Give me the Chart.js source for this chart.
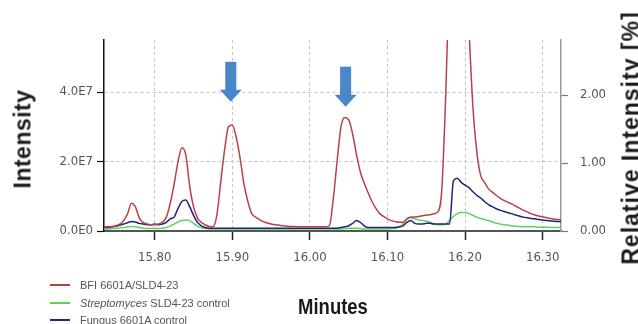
<!DOCTYPE html>
<html>
<head>
<meta charset="utf-8">
<script src="https://cdn.jsdelivr.net/npm/chart.js@4.4.1/dist/chart.umd.min.js"></script>
<style>
  html, body { margin: 0; padding: 0; background: #ffffff; }
  #wrap { position: relative; width: 638px; height: 324px; overflow: hidden; background: #fff; }
  #c { position: absolute; left: 0; top: 0; }
  .title { position: absolute; white-space: nowrap; font-weight: bold; color: #1a1a1a; }
  .rot { transform: translate(-50%, -50%) rotate(-90deg); }
  .legrow { position: absolute; left: 50px; height: 14px; font-family: "Liberation Sans", Arial, sans-serif; font-size: 11px; color: #555; white-space: nowrap; }
  .legrow span.sw { position: absolute; left: 0; top: 6px; width: 20px; height: 2px; }
  .legrow span.tx { position: absolute; left: 30px; top: 0; line-height: 14px; }
</style>
</head>
<body>
<div id="wrap">
  <canvas id="c" width="638" height="324"></canvas>
  <div class="title rot" id="yTitle" style="left:23px; top:139px; font-family:'Liberation Sans', Arial, sans-serif; font-size:23px; letter-spacing:0.5px;">Intensity</div>
  <div class="title rot" id="y2Title" style="left:631px; top:138px; font-family:'Liberation Sans', Arial, sans-serif; font-size:23px; letter-spacing:1px;">Relative Intensity [%]</div>
  <div class="title" id="xTitle" style="left:333px; top:307px; transform:translate(-50%,-50%) scaleX(0.84); font-family:'Liberation Sans', Arial, sans-serif; font-size:22px;">Minutes</div>
  <div id="legend"></div>
</div>
<script>
// ---------- data ----------
const minutes = [
  15.735, 15.740, 15.745, 15.750, 15.755, 15.760, 15.765, 15.770, 15.775, 15.780,
  15.785, 15.790, 15.795, 15.800, 15.805, 15.810, 15.815, 15.820, 15.825, 15.830,
  15.835, 15.840, 15.845, 15.850, 15.855, 15.860, 15.865, 15.870, 15.875, 15.880,
  15.885, 15.890, 15.895, 15.900, 15.905, 15.910, 15.915, 15.920, 15.925, 15.930,
  15.935, 15.940, 15.945, 15.950, 15.955, 15.960, 15.965, 15.970, 15.975, 15.980,
  15.985, 15.990, 15.995, 16.000, 16.005, 16.010, 16.015, 16.020, 16.025, 16.030,
  16.035, 16.040, 16.045, 16.050, 16.055, 16.060, 16.065, 16.070, 16.075, 16.080,
  16.085, 16.090, 16.095, 16.100, 16.105, 16.110, 16.115, 16.120, 16.125, 16.130,
  16.135, 16.140, 16.145, 16.150, 16.155, 16.160, 16.165, 16.170, 16.175, 16.180,
  16.185, 16.190, 16.195, 16.200, 16.205, 16.210, 16.215, 16.220, 16.225, 16.230,
  16.235, 16.240, 16.245, 16.250, 16.255, 16.260, 16.265, 16.270, 16.275, 16.280,
  16.285, 16.290, 16.295, 16.300, 16.305, 16.310, 16.315, 16.320, 16.325
];
// intensities in units of 1E7
const bfiCoculture = [
  0.12, 0.12, 0.13, 0.15, 0.20, 0.30, 0.50, 0.80, 0.70, 0.38,
  0.25, 0.20, 0.18, 0.18, 0.20, 0.25, 0.40, 0.80, 1.35, 2.00,
  2.40, 2.20, 1.30, 0.70, 0.38, 0.25, 0.18, 0.13, 0.12, 0.45,
  1.40, 2.33, 3.00, 3.05, 2.70, 2.10, 1.35, 0.85, 0.50, 0.40,
  0.33, 0.27, 0.23, 0.20, 0.18, 0.17, 0.15, 0.14, 0.13, 0.13,
  0.12, 0.12, 0.12, 0.12, 0.12, 0.12, 0.12, 0.12, 0.15, 0.90,
  2.00, 3.00, 3.27, 3.20, 2.80, 2.20, 1.70, 1.38, 1.10, 0.85,
  0.65, 0.50, 0.42, 0.35, 0.30, 0.27, 0.25, 0.25, 0.35, 0.40,
  0.40, 0.42, 0.44, 0.46, 0.47, 0.50, 0.55, 1.20, 3.90, 7.50,
  9.00, 9.50, 9.00, 8.00, 5.80, 3.60, 2.30, 1.60, 1.40, 1.22,
  1.12, 1.03, 0.95, 0.88, 0.83, 0.78, 0.72, 0.66, 0.60, 0.55,
  0.50, 0.46, 0.43, 0.41, 0.38, 0.36, 0.34, 0.33, 0.32
];
const streptomycesControl = [
  0.06, 0.06, 0.07, 0.08, 0.09, 0.10, 0.12, 0.13, 0.12, 0.10,
  0.08, 0.07, 0.07, 0.07, 0.07, 0.08, 0.10, 0.14, 0.20, 0.26,
  0.30, 0.32, 0.30, 0.22, 0.14, 0.09, 0.07, 0.06, 0.06, 0.06,
  0.06, 0.06, 0.06, 0.06, 0.06, 0.06, 0.06, 0.06, 0.06, 0.06,
  0.06, 0.06, 0.06, 0.06, 0.06, 0.06, 0.06, 0.06, 0.06, 0.06,
  0.06, 0.06, 0.06, 0.06, 0.06, 0.06, 0.06, 0.06, 0.06, 0.06,
  0.06, 0.06, 0.07, 0.08, 0.08, 0.08, 0.07, 0.06, 0.06, 0.06,
  0.06, 0.06, 0.06, 0.06, 0.07, 0.08, 0.12, 0.20, 0.35, 0.38,
  0.35, 0.32, 0.30, 0.28, 0.25, 0.20, 0.18, 0.18, 0.20, 0.30,
  0.42, 0.50, 0.53, 0.53, 0.50, 0.45, 0.40, 0.36, 0.33, 0.30,
  0.26, 0.23, 0.20, 0.18, 0.17, 0.15, 0.14, 0.13, 0.12, 0.12,
  0.12, 0.12, 0.11, 0.11, 0.11, 0.10, 0.10, 0.10, 0.10
];
const fungusControl = [
  0.10, 0.10, 0.12, 0.14, 0.17, 0.20, 0.24, 0.27, 0.26, 0.22,
  0.20, 0.18, 0.18, 0.20, 0.18, 0.20, 0.25, 0.35, 0.40, 0.65,
  0.85, 0.89, 0.70, 0.45, 0.25, 0.15, 0.10, 0.08, 0.08, 0.08,
  0.08, 0.08, 0.08, 0.08, 0.08, 0.08, 0.08, 0.08, 0.08, 0.08,
  0.08, 0.08, 0.08, 0.08, 0.08, 0.08, 0.08, 0.08, 0.08, 0.08,
  0.08, 0.08, 0.08, 0.08, 0.08, 0.08, 0.08, 0.08, 0.08, 0.08,
  0.08, 0.10, 0.12, 0.15, 0.22, 0.30, 0.25, 0.15, 0.10, 0.10,
  0.10, 0.10, 0.10, 0.10, 0.10, 0.10, 0.12, 0.15, 0.25, 0.30,
  0.22, 0.20, 0.20, 0.22, 0.22, 0.20, 0.20, 0.20, 0.20, 0.20,
  1.45, 1.52, 1.40, 1.32, 1.25, 1.13, 1.03, 0.95, 0.85, 0.76,
  0.70, 0.64, 0.60, 0.56, 0.53, 0.50, 0.46, 0.43, 0.40, 0.38,
  0.36, 0.35, 0.33, 0.32, 0.30, 0.29, 0.28, 0.27, 0.27
];
const seriesNames = ["BFI 6601A/SLD4-23", "Streptomyces SLD4-23 control", "Fungus 6601A control"];
const xTickValues = [15.80, 15.90, 16.00, 16.10, 16.20, 16.30];
const yTickValues = [0, 2, 4];
const yTickLabels = ["0.0E0", "2.0E7", "4.0E7"];
const y2TickValues = [0, 1, 2];
const y2TickLabels = ["0.00", "1.00", "2.00"];
const arrowMinutes = [15.898, 16.046];
const arrowTips = [3.72, 3.58];

// ---------- styles ----------
const colors = ["#b9404b", "#62cf62", "#23237a"];

const toXY = (ys) => minutes.map((m, i) => ({ x: m, y: ys[i] }));

const arrowPlugin = {
  id: 'arrows',
  afterDatasetsDraw(chart) {
    const { ctx, scales } = chart;
    ctx.save();
    ctx.fillStyle = '#4a87c8';
    arrowMinutes.forEach((m, i) => {
      const x = scales.x.getPixelForValue(m);
      const tip = scales.y.getPixelForValue(arrowTips[i]);
      const total = 40, head = 12, shaftW = 11, headW = 22;
      ctx.fillRect(x - shaftW / 2, tip - total, shaftW, total - head + 1);
      ctx.beginPath();
      ctx.moveTo(x - headW / 2, tip - head);
      ctx.lineTo(x + headW / 2, tip - head);
      ctx.lineTo(x, tip);
      ctx.closePath();
      ctx.fill();
    });
    ctx.restore();
  }
};

const tickFont = { family: "'Liberation Sans Narrow', 'DejaVu Sans Condensed', 'Liberation Sans', sans-serif", size: 13 };

new Chart(document.getElementById('c'), {
  type: 'line',
  data: {
    datasets: [
      { label: seriesNames[0], data: toXY(bfiCoculture), borderColor: colors[0], yAxisID: 'y' },
      { label: seriesNames[2], data: toXY(fungusControl), borderColor: colors[2], yAxisID: 'y' },
      { label: seriesNames[1], data: toXY(streptomycesControl), borderColor: colors[1], yAxisID: 'y' }
    ]
  },
  options: {
    responsive: false,
    animation: false,
    devicePixelRatio: 1,
    layout: { padding: { top: 40, left: 0, right: 0, bottom: 0 } },
    elements: {
      point: { radius: 0 },
      line: { borderWidth: 1.5, cubicInterpolationMode: 'monotone', fill: false }
    },
    plugins: { legend: { display: false }, tooltip: { enabled: false } },
    scales: {
      x: {
        type: 'linear',
        min: 15.7346,
        max: 16.3236,
        afterBuildTicks: (s) => { s.ticks = xTickValues.map(v => ({ value: v })); },
        afterFit: (s) => { s.height = 93; },
        ticks: {
          callback: (v) => Number(v).toFixed(2),
          font: tickFont, color: '#555', padding: 10, autoSkip: false, maxRotation: 0
        },
        grid: { color: '#c4c4c4', lineWidth: 1, tickColor: '#222', tickLength: 9, tickWidth: 1.5 },
        border: { color: '#555', width: 2, dash: [3, 3] }
      },
      y: {
        position: 'left',
        min: 0,
        max: 5.5,
        afterBuildTicks: (s) => { s.ticks = yTickValues.map(v => ({ value: v })); },
        afterFit: (s) => { s.width = 104; },
        ticks: {
          callback: (v) => yTickLabels[yTickValues.indexOf(v)],
          font: tickFont, color: '#555', padding: 4
        },
        grid: {
          color: (c) => (c.tick && c.tick.value === 0) ? 'rgba(0,0,0,0)' : '#c4c4c4',
          lineWidth: 1, tickColor: '#111', tickLength: 7, tickWidth: 1.2
        },
        border: { color: '#111', width: 1.5, dash: [3, 3] }
      },
      y2: {
        position: 'right',
        min: 0,
        max: 2.81,
        afterBuildTicks: (s) => { s.ticks = y2TickValues.map(v => ({ value: v })); },
        afterFit: (s) => { s.width = 77; },
        ticks: {
          callback: (v) => y2TickLabels[y2TickValues.indexOf(v)],
          font: tickFont, color: '#555', padding: 12
        },
        grid: { drawOnChartArea: false, tickColor: '#777', tickLength: 7, tickWidth: 1.2 },
        border: { color: '#999', width: 1.5 }
      }
    }
  },
  plugins: [arrowPlugin]
});

// ---------- legend (HTML text) ----------
const legendOrder = [0, 1, 2];
const legendTops = [278, 296, 313];
const legend = document.getElementById('legend');
legendOrder.forEach((k, i) => {
  const row = document.createElement('div');
  row.className = 'legrow';
  row.style.top = legendTops[i] + 'px';
  const sw = document.createElement('span');
  sw.className = 'sw';
  sw.style.background = colors[k];
  const tx = document.createElement('span');
  tx.className = 'tx';
  if (k === 1) {
    const parts = seriesNames[k].split(' ');
    const it = document.createElement('i');
    it.textContent = parts[0];
    tx.appendChild(it);
    tx.appendChild(document.createTextNode(' ' + parts.slice(1).join(' ')));
  } else {
    tx.textContent = seriesNames[k];
  }
  row.appendChild(sw);
  row.appendChild(tx);
  legend.appendChild(row);
});
</script>
</body>
</html>
